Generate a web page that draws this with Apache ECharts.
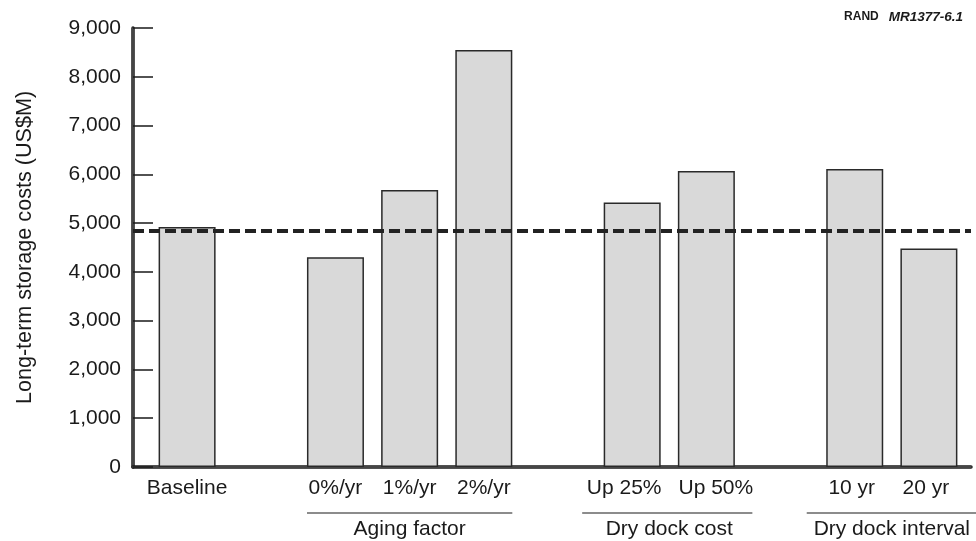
<!DOCTYPE html>
<html>
<head>
<meta charset="utf-8">
<script src="https://cdn.jsdelivr.net/npm/echarts@6/dist/echarts.min.js"></script>
<style>html,body{margin:0;padding:0;background:#fff}#c{width:976px;height:541px}</style>
</head>
<body>
<div id="c"></div>
<script>
const categories = ['Baseline', '', '0%/yr', '1%/yr', '2%/yr', ' ', 'Up 25%', 'Up 50%', '  ', '10 yr', '20 yr'];
const costs = [4920, null, 4300, 5680, 8550, null, 5420, 6070, null, 6110, 4480];
const referenceLevel = 4850;
const yTicks = [0, 1000, 2000, 3000, 4000, 5000, 6000, 7000, 8000, 9000];
const groupNames = ['Aging factor', 'Dry dock cost', 'Dry dock interval'];
const groupFirst = ['0%/yr', 'Up 25%', '10 yr'];
const groupLast = ['2%/yr', 'Up 50%', '20 yr'];

const FONT = '"Liberation Sans", Arial, Helvetica, sans-serif';
const INK = '#1a1a1a';
const chart = echarts.init(document.getElementById('c'), null, {renderer: 'canvas'});

const yMin = yTicks[0], yMax = yTicks[yTicks.length - 1], yStep = yTicks[1] - yTicks[0];
const G = {top: 28, bottom: 74};
const labelBase = {fontFamily: FONT, fontSize: 21, color: INK};
// small horizontal nudges of individual category labels (style only)
const labelNudge = {'Up 25%': 'l', 'Up 50%': 'r', '10 yr': 's', '20 yr': 's'};

chart.setOption({
  animation: false,
  backgroundColor: '#fff',
  title: {
    text: '{b|RAND}  {i|MR1377-6.1}',
    right: 8, top: 3,
    textStyle: {
      rich: {
        b: {fontFamily: FONT, fontWeight: 'bold', fontSize: 12, color: INK},
        i: {fontFamily: FONT, fontStyle: 'italic', fontSize: 13.5, color: INK}
      }
    }
  },
  grid: [
    {left: 133, right: 5, top: G.top, bottom: G.bottom},
    {left: 150, right: 10, top: G.top, bottom: G.bottom}
  ],
  xAxis: [
    {gridIndex: 0, type: 'value', min: 0, max: 1, position: 'bottom',
     axisLine: {show: true, lineStyle: {color: INK, width: 3.5}},
     axisTick: {show: false}, axisLabel: {show: false}, splitLine: {show: false}},
    {gridIndex: 1, type: 'category', data: categories, boundaryGap: true,
     axisLine: {show: false}, axisTick: {show: false}, splitLine: {show: false},
     axisLabel: Object.assign({interval: 0, margin: 11,
       formatter: v => labelNudge[v] ? '{' + labelNudge[v] + '|' + v + '}' : v,
       rich: {
         l: Object.assign({padding: [0, 16, 0, 0]}, labelBase),
         r: Object.assign({padding: [0, 0, 0, 19]}, labelBase),
         s: Object.assign({padding: [0, 6, 0, 0]}, labelBase)
       }}, labelBase)},
    {gridIndex: 0, type: 'value', min: 0, max: 1, position: 'top',
     axisLine: {show: true, lineStyle: {color: '#555', width: 1.5}},
     axisTick: {show: false}, axisLabel: {show: false}, splitLine: {show: false}}
  ],
  yAxis: [
    {gridIndex: 0, type: 'value', min: yMin, max: yMax, interval: yStep, position: 'left',
     name: 'Long-term storage costs (US$M)', nameLocation: 'middle', nameRotate: 90, nameGap: 97,
     nameTextStyle: {fontFamily: FONT, fontSize: 21.6, color: INK},
     axisLine: {show: true, lineStyle: {color: INK, width: 3.5}},
     axisTick: {show: true, inside: true, length: 20, lineStyle: {color: INK, width: 1.5}},
     axisLabel: {margin: 12, fontFamily: FONT, fontSize: 21, color: INK,
       formatter: v => v.toLocaleString('en-US')},
     splitLine: {show: false}},
    {gridIndex: 1, type: 'value', min: yMin, max: yMax, interval: yStep, show: false},
    {gridIndex: 0, type: 'value', min: yMin, max: yMax, interval: yStep, position: 'right',
     axisLine: {show: true, lineStyle: {color: '#555', width: 1.5}},
     axisTick: {show: false}, axisLabel: {show: false}, splitLine: {show: false}}
  ],
  series: [
    {type: 'bar', xAxisIndex: 1, yAxisIndex: 1, data: costs, barWidth: 57,
     itemStyle: {color: '#d9d9d9', borderColor: '#2a2a2a', borderWidth: 1.5},
     silent: true},
    {type: 'line', xAxisIndex: 0, yAxisIndex: 0, data: [], silent: true,
     markLine: {symbol: 'none', silent: true, label: {show: false},
       lineStyle: {type: [11, 5], width: 4, color: '#222'},
       data: [{yAxis: referenceLevel}]}}
  ]
});

const graphics = [];
const padsL = [28.5, 50, 48], padsR = [28.5, 46, 48];
const lineY = 513, textY = 529;
groupNames.forEach((name, k) => {
  const x1 = chart.convertToPixel({xAxisIndex: 1}, categories.indexOf(groupFirst[k]));
  const x2 = chart.convertToPixel({xAxisIndex: 1}, categories.indexOf(groupLast[k]));
  graphics.push({type: 'line', shape: {x1: x1 - padsL[k], y1: lineY, x2: x2 + padsR[k], y2: lineY},
    style: {stroke: INK, lineWidth: 1.2}, silent: true});
  graphics.push({type: 'text', x: (x1 + x2) / 2, y: textY,
    style: {text: name, fontFamily: FONT, fontSize: 21, fill: INK, align: 'center', verticalAlign: 'middle'},
    silent: true});
});
chart.setOption({graphic: graphics});
</script>
</body>
</html>
